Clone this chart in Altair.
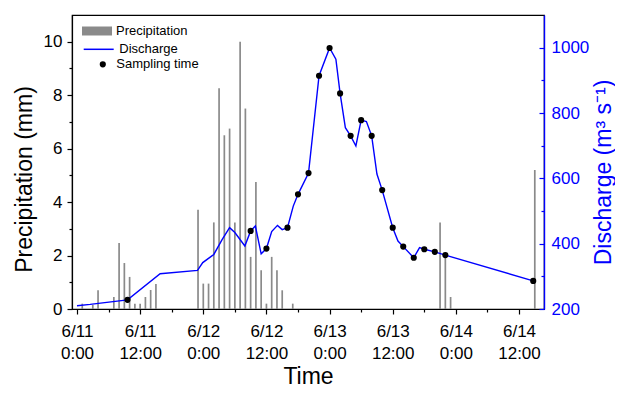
import altair as alt
import pandas as pd

FONT = "Liberation Sans"
BLUE = "#0000ff"

# ---- data (hours since 6/11 0:00) ----
precip_hours = [1, 3, 4, 7, 8, 9, 10, 11, 12, 13, 14, 15,
                23, 24, 25, 26, 27, 28, 29, 30, 31, 32, 33, 34, 35, 36, 37, 38, 39, 41,
                69, 70, 71, 87]
precip_mm = [0.2, 0.15, 0.7, 0.45, 2.47, 1.72, 1.2, 0.2, 0.2, 0.45, 0.71, 0.94,
             3.71, 0.95, 0.95, 3.24, 8.26, 6.5, 6.75, 3.24, 10.0, 7.5, 1.95, 4.75, 1.45, 0.2, 1.95, 1.45, 0.7, 0.2,
             3.24, 2.03, 0.45, 5.2]

q_hours = [0, 2.5, 9.6, 15.8, 22.9, 23.9, 26, 27.6, 29, 30, 31.9, 33, 33.9, 35, 36, 37, 38.1, 39, 40,
           41.1, 42, 44, 46, 48, 49.2, 50, 51, 52, 53, 54, 55, 56, 57, 58, 60, 61, 62, 64, 65.1,
           66, 68, 70, 86.7]
q_vals = [210, 214, 228, 308, 318, 342, 367, 413, 449, 434, 393, 439, 454, 369, 385, 437, 456, 443, 449,
          515, 551, 616, 914, 999, 965, 860, 755, 730, 699, 778, 774, 730, 613, 564, 449, 408, 391, 357, 388,
          383, 375, 365, 286]

s_hours = [9.6, 33, 36, 40, 42, 44, 46, 48, 50, 52, 54, 56, 58, 60, 62, 64, 66, 68, 70, 86.7]
s_vals = [228, 439, 385, 449, 551, 616, 914, 999, 860, 730, 778, 730, 564, 449, 391, 357, 383, 375, 365, 286]

x_tick_hours = [0, 12, 24, 36, 48, 60, 72, 84]
x_tick_dates = ["6/11", "6/11", "6/12", "6/12", "6/13", "6/13", "6/14", "6/14"]
x_tick_times = ["0:00", "12:00", "0:00", "12:00", "0:00", "12:00", "0:00", "12:00"]
x_minor_step = 6
x_domain = [0, 87.8]

left_domain = [0, 11]
left_ticks = list(range(0, 11))
right_domain = [200, 1100]
right_ticks = list(range(200, 1001, 100))

precip_df = pd.DataFrame({"h": precip_hours, "p": precip_mm, "s": "Precipitation"})
q_df = pd.DataFrame({"h": q_hours, "q": q_vals, "s": "Discharge"})
s_df = pd.DataFrame({"h": s_hours, "q": s_vals, "s": "Sampling time"})

parts = [f"datum.value == {h} ? ['{d}', '{t}']" for h, d, t in zip(x_tick_hours, x_tick_dates, x_tick_times)]
label_expr = " : ".join(parts) + " : ''"

x_axis = alt.Axis(
    values=list(range(0, 85, x_minor_step)),
    labelExpr=label_expr,
    labelFontSize=17, labelFont=FONT, labelColor="black",
    labelLineHeight=22, labelPadding=9, labelAngle=0,
    labelFlush=False, labelOverlap=False, labelBound=False,
    tickSize={"condition": {"test": "datum.value % 12 == 0", "value": 5}, "value": 3},
    tickColor="black", tickWidth=1.2, domainColor="black", domainWidth=1.2,
    grid=False, title="Time", titleFontSize=23, titleFont=FONT, titleFontWeight="normal",
    titleColor="black", titleY=74, titleBaseline="alphabetic",
)


def x_enc():
    return alt.X("h:Q", scale=alt.Scale(domain=x_domain, nice=False, zero=False), axis=x_axis)


bars = alt.Chart(precip_df).mark_bar(size=1.7, color="#8f8f8f").encode(
    x=x_enc(),
    y=alt.Y("p:Q", scale=alt.Scale(domain=left_domain, nice=False),
            axis=alt.Axis(
                orient="left", values=left_ticks,
                labelExpr="datum.value % 2 == 0 ? datum.label : ''",
                labelFontSize=17, labelFont=FONT, labelColor="black", labelPadding=5,
                tickSize={"condition": {"test": "datum.value % 2 == 0", "value": 5}, "value": 3},
                tickColor="black", tickWidth=1.2, domainColor="black", domainWidth=1.2,
                grid=False, title="Precipitation (mm)", titleFontSize=23, titleFont=FONT,
                titleFontWeight="normal", titleColor="black", titleAngle=270,
                titleX=-41, titleY=164, titleBaseline="alphabetic", titleAlign="center",
            )),
    fill=alt.Fill("s:N", scale=alt.Scale(range=["#8a8a8a"]),
                  legend=alt.Legend(orient="none", legendX=10, legendY=1, title=None, padding=0,
                                    symbolType="M-1,-0.3H1V0.3H-1Z", symbolSize=900,
                                    symbolStrokeWidth=0, labelFontSize=13, labelFont=FONT,
                                    labelColor="black", labelOffset=4)),
)

right_axis = alt.Axis(
    orient="right", values=right_ticks, format="d",
    labelExpr="datum.value % 200 == 0 ? datum.label : ''",
    labelFontSize=17, labelFont=FONT, labelColor=BLUE, labelPadding=12,
    tickSize={"condition": {"test": "datum.value % 200 == 0", "value": -5}, "value": -3},
    tickColor=BLUE, tickWidth=1.2, domainColor=BLUE, domainWidth=1.4,
    grid=False, title="Discharge (m³ s⁻¹)", titleFontSize=23, titleFont=FONT,
    titleFontWeight="normal", titleColor=BLUE, titleAngle=270,
    titleX=66, titleY=157, titleBaseline="alphabetic", titleAlign="center",
)

line = alt.Chart(q_df).mark_line(strokeWidth=1.4).encode(
    x=x_enc(),
    y=alt.Y("q:Q", scale=alt.Scale(domain=right_domain, nice=False, zero=False), axis=right_axis),
    stroke=alt.Stroke("s:N", scale=alt.Scale(range=[BLUE]),
                      legend=alt.Legend(orient="none", legendX=10.7, legendY=18.3, title=None, padding=0,
                                        symbolType="stroke", symbolSize=900, symbolStrokeWidth=1.5,
                                        labelFontSize=13, labelFont=FONT, labelColor="black",
                                        labelOffset=4.6)),
)

points = alt.Chart(s_df).mark_point(filled=True, color="black", size=38, opacity=1).encode(
    x=x_enc(),
    y=alt.Y("q:Q", scale=alt.Scale(domain=right_domain, nice=False, zero=False), axis=right_axis),
    shape=alt.Shape("s:N", scale=alt.Scale(range=["circle"]),
                    legend=alt.Legend(orient="none", legendX=24.3, legendY=42.8, title=None, padding=0,
                                      symbolSize=38, symbolFillColor="black", symbolStrokeColor="black",
                                      symbolOpacity=1,
                                      labelFontSize=13, labelFont=FONT, labelColor="black",
                                      labelOffset=7)),
)

right = alt.layer(line, points)

chart = alt.layer(bars, right).resolve_scale(y="independent").properties(
    width=472, height=294,
    autosize=alt.AutoSizeParams(type="none"),
    padding={"left": 64, "top": 7, "right": 71, "bottom": 84},
    background="white",
).configure_view(stroke="black", strokeWidth=1.2)

chart.save("out.html", embed_options={"renderer": "svg", "actions": False})
